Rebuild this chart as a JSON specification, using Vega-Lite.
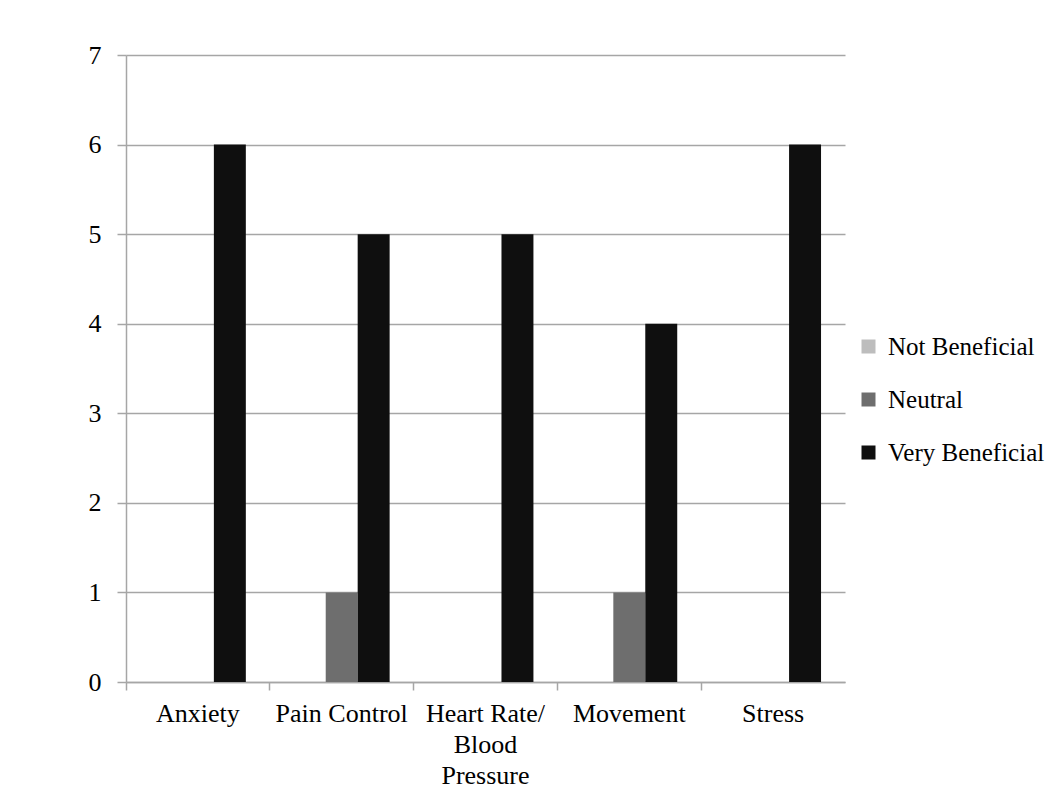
{
  "$schema": "https://vega.github.io/schema/vega-lite/v6.json",
  "autosize": {"type": "none"},
  "padding": {"left": 126, "top": 55, "right": 207, "bottom": 113},
  "width": 719,
  "height": 627,
  "background": "white",
  "config": {
    "font": "Liberation Serif",
    "view": {"stroke": null},
    "axis": {
      "labelFont": "Liberation Serif",
      "labelFontSize": 26,
      "labelColor": "#000000",
      "domainColor": "#a6a6a6",
      "domainWidth": 1.5,
      "tickColor": "#a6a6a6",
      "tickWidth": 1.5,
      "gridColor": "#a6a6a6",
      "gridWidth": 1.5,
      "title": null
    },
    "legend": {
      "labelFont": "Liberation Serif",
      "labelFontSize": 25,
      "labelColor": "#000000"
    }
  },
  "data": {
    "values": [
      {"category": "Anxiety", "series": "Not Beneficial", "value": 0},
      {"category": "Anxiety", "series": "Neutral", "value": 0},
      {"category": "Anxiety", "series": "Very Beneficial", "value": 6},
      {"category": "Pain Control", "series": "Not Beneficial", "value": 0},
      {"category": "Pain Control", "series": "Neutral", "value": 1},
      {"category": "Pain Control", "series": "Very Beneficial", "value": 5},
      {"category": "Heart Rate/|Blood|Pressure", "series": "Not Beneficial", "value": 0},
      {"category": "Heart Rate/|Blood|Pressure", "series": "Neutral", "value": 0},
      {"category": "Heart Rate/|Blood|Pressure", "series": "Very Beneficial", "value": 5},
      {"category": "Movement", "series": "Not Beneficial", "value": 0},
      {"category": "Movement", "series": "Neutral", "value": 1},
      {"category": "Movement", "series": "Very Beneficial", "value": 4},
      {"category": "Stress", "series": "Not Beneficial", "value": 0},
      {"category": "Stress", "series": "Neutral", "value": 0},
      {"category": "Stress", "series": "Very Beneficial", "value": 6}
    ]
  },
  "mark": {"type": "bar"},
  "encoding": {
    "x": {
      "field": "category",
      "type": "nominal",
      "sort": ["Anxiety", "Pain Control", "Heart Rate/|Blood|Pressure", "Movement", "Stress"],
      "scale": {"paddingInner": 0, "paddingOuter": 0},
      "axis": {
        "labelAngle": 0,
        "bandPosition": 0,
        "tickSize": 8,
        "labelPadding": 10,
        "labelLineHeight": 31,
        "labelExpr": "split(datum.value, '|')",
        "labelLimit": 220
      }
    },
    "xOffset": {
      "field": "series",
      "type": "nominal",
      "sort": ["Not Beneficial", "Neutral", "Very Beneficial"],
      "scale": {"paddingInner": 0, "paddingOuter": 0.75}
    },
    "y": {
      "field": "value",
      "type": "quantitative",
      "scale": {"domain": [0, 7], "nice": false},
      "axis": {
        "values": [0, 1, 2, 3, 4, 5, 6, 7],
        "labelOverlap": false,
        "tickSize": 9,
        "labelPadding": 16,
        "grid": true
      }
    },
    "color": {
      "field": "series",
      "type": "nominal",
      "sort": ["Not Beneficial", "Neutral", "Very Beneficial"],
      "scale": {
        "domain": ["Not Beneficial", "Neutral", "Very Beneficial"],
        "range": ["#bdbdbd", "#6e6e6e", "#0f0f0f"]
      },
      "legend": {
        "title": null,
        "orient": "none",
        "legendX": 730,
        "legendY": 279,
        "symbolType": "square",
        "symbolSize": 196,
        "symbolStrokeWidth": 0,
        "labelOffset": 7,
        "rowPadding": 27
      }
    }
  }
}
